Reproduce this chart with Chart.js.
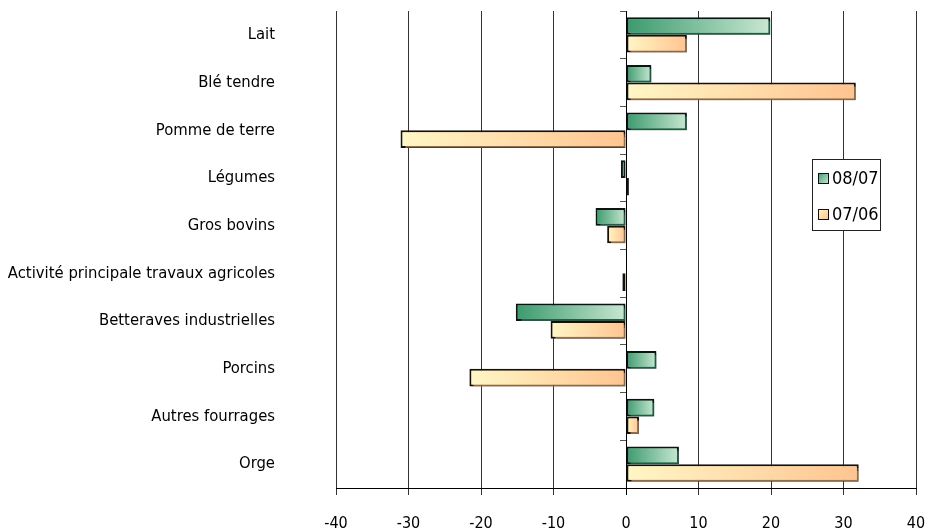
<!DOCTYPE html>
<html>
<head>
<meta charset="utf-8">
<script src="https://cdn.jsdelivr.net/npm/chart.js@4/dist/chart.umd.min.js"></script>
<style>
  html, body { margin: 0; padding: 0; background: #fff; }
  #wrap { width: 928px; height: 531px; position: relative; }
</style>
</head>
<body>
<div id="wrap"><canvas id="c" width="928" height="531"></canvas></div>
<script>
const categories = [
  'Lait', 'Blé tendre', 'Pomme de terre', 'Légumes', 'Gros bovins',
  'Activité principale travaux agricoles', 'Betteraves industrielles',
  'Porcins', 'Autres fourrages', 'Orge'
];
const series0807 = [19.9, 3.5, 8.4, -0.7, -4.2, 0, -15.2, 4.2, 3.9, 7.3];
const series0706 = [8.4, 31.7, -31.1, 0.4, -2.6, -0.5, -10.4, -21.6, 1.8, 32.1];
const xTicks = [-40, -30, -20, -10, 0, 10, 20, 30, 40];

const FONT = "'Liberation Sans Narrow', 'Arial Narrow', 'DejaVu Sans Condensed', sans-serif";
const GREEN = ['#3a9a6e', '#c9e7d2'];
const PEACH = ['#fff7c6', '#ffc490'];

// Horizontal gradient running from the bar's left end to its right end
function barFill(stops) {
  return (ctx) => {
    const chart = ctx.chart;
    const x = chart.scales && chart.scales.x;
    if (ctx.type !== 'data' || !x || !chart.chartArea) return stops[1];
    const p0 = x.getPixelForValue(0);
    const p1 = x.getPixelForValue(ctx.raw);
    const a = Math.min(p0, p1), b = Math.max(p0, p1);
    if (b - a < 1) return stops[1];
    const g = chart.ctx.createLinearGradient(a, 0, b, 0);
    g.addColorStop(0, stops[0]);
    g.addColorStop(1, stops[1]);
    return g;
  };
}

// Soft coloured drop shadow under each series
const barShadow = {
  id: 'barShadow',
  beforeDatasetDraw(chart, args) {
    const c = chart.ctx;
    c.save();
    c.shadowColor = args.index === 0 ? 'rgba(40,150,100,0.6)' : 'rgba(240,170,100,0.6)';
    c.shadowOffsetX = 2;
    c.shadowOffsetY = 2;
    c.shadowBlur = 1;
  },
  afterDatasetDraw(chart) { chart.ctx.restore(); }
};

// Boxed legend sitting inside the plot area
const boxedLegend = {
  id: 'boxedLegend',
  afterDraw(chart) {
    const c = chart.ctx;
    const bx = 812, by = 159, bw = 68, bh = 71;
    c.save();
    c.fillStyle = '#fff';
    c.fillRect(bx, by, bw, bh);
    c.strokeStyle = '#222';
    c.lineWidth = 1;
    c.strokeRect(bx + 0.5, by + 0.5, bw, bh);
    const rows = [178, 214];
    chart.data.datasets.forEach((ds, i) => {
      const y = rows[i];
      const stops = ds._stops;
      const g = c.createLinearGradient(818, y - 5, 829, y + 5);
      g.addColorStop(0, stops[0]);
      g.addColorStop(1, stops[1]);
      c.fillStyle = g;
      c.fillRect(818, y - 5, 10, 10);
      c.strokeStyle = '#111';
      c.strokeRect(818.5, y - 4.5, 10, 10);
      c.fillStyle = '#000';
      c.font = '18px ' + FONT;
      c.textBaseline = 'middle';
      c.textAlign = 'left';
      c.fillText(ds.label, 832, y + 1);
    });
    c.restore();
  }
};

new Chart(document.getElementById('c'), {
  type: 'bar',
  data: {
    labels: categories,
    datasets: [
      {
        label: '08/07', data: series0807, _stops: GREEN,
        backgroundColor: barFill(GREEN), borderColor: '#111', borderWidth: 2,
        borderSkipped: false, categoryPercentage: 0.74, barPercentage: 1
      },
      {
        label: '07/06', data: series0706, _stops: PEACH,
        backgroundColor: barFill(PEACH), borderColor: '#111', borderWidth: 2,
        borderSkipped: false, categoryPercentage: 0.74, barPercentage: 1
      }
    ]
  },
  options: {
    indexAxis: 'y',
    responsive: false,
    animation: false,
    layout: { padding: { top: 11, right: 12, left: 0, bottom: 0 } },
    plugins: { legend: { display: false }, tooltip: { enabled: false } },
    scales: {
      x: {
        type: 'linear', min: -40, max: 40,
        afterBuildTicks: (s) => { s.ticks = xTicks.map(v => ({ value: v })); },
        afterFit: (s) => { s.height = 43; s.paddingLeft = 0; s.paddingRight = 0; },
        border: { display: true, color: '#000', width: 1 },
        grid: {
          color: (ctx) => ctx.tick && ctx.tick.value === 0 ? '#000' : '#333',
          lineWidth: 1, tickLength: 7, drawTicks: true
        },
        ticks: { color: '#000', font: { family: FONT, size: 16 }, padding: 19 }
      },
      y: {
        type: 'category', position: 'left',
        afterFit: (s) => { s.width = 336; s.paddingTop = 0; s.paddingBottom = 0; },
        border: { display: false },
        grid: { display: false, drawTicks: false },
        ticks: { color: '#000', font: { family: FONT, size: 16.5 }, padding: 61 }
      },
      yZero: {
        type: 'category', axis: 'y', position: { x: 0 },
        labels: categories, offset: true,
        border: { display: true, color: '#000', width: 1 },
        grid: { offset: true, drawOnChartArea: false, tickLength: 6, color: '#555' },
        ticks: { display: false }
      }
    }
  },
  plugins: [barShadow, boxedLegend]
});
</script>
</body>
</html>
